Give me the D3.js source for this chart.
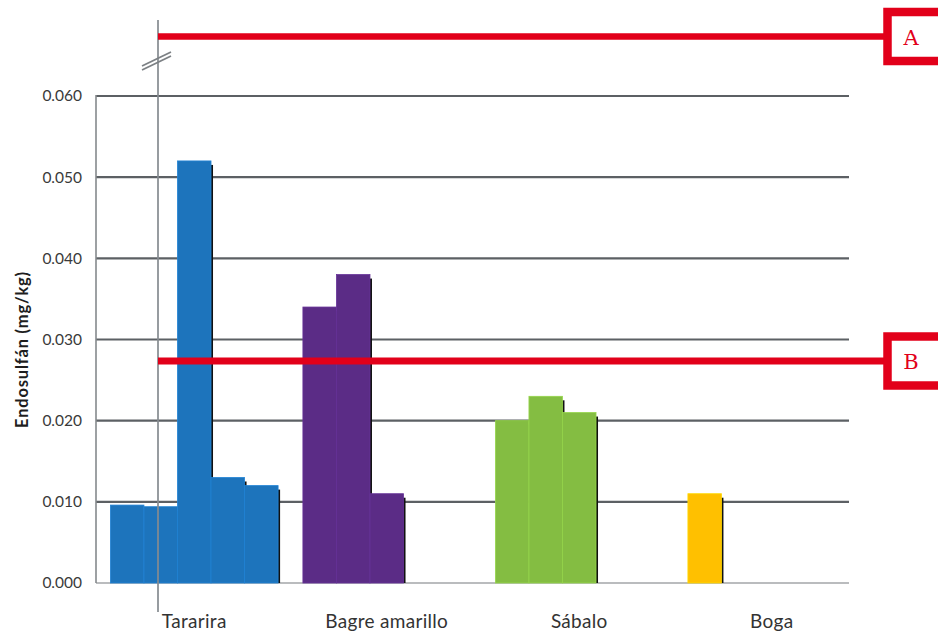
<!DOCTYPE html>
<html>
<head>
<meta charset="utf-8">
<script src="https://cdn.jsdelivr.net/npm/d3@7"></script>
<style>
  html, body { margin: 0; padding: 0; background: #fff; }
  svg { display: block; }
</style>
</head>
<body>
<svg id="chart" width="938" height="634"></svg>
<script>
// Fish species sampled
const categories = ["Tararira", "Bagre amarillo", "Sábalo", "Boga"];
// Endosulfán concentration per sample (mg/kg)
const tarariraValues = [0.0096, 0.0094, 0.052, 0.013, 0.012];
const bagreValues = [0.034, 0.038, 0.011];
const sabaloValues = [0.020, 0.023, 0.021];
const bogaValues = [0.011];
const seriesValues = [tarariraValues, bagreValues, sabaloValues, bogaValues];
const seriesColors = ["#1d74bc", "#5b2c86", "#84bd42", "#ffc000"];
// Y axis ticks
const yTicks = [0, 0.01, 0.02, 0.03, 0.04, 0.05, 0.06];
const yTickLabels = ["0.000", "0.010", "0.020", "0.030", "0.040", "0.050", "0.060"];
// Reference limits (labelled boxes on the right)
const limitLabels = ["A", "B"];
const yTitle = "Endosulfán (mg/kg)";

const svg = d3.select("#chart");
const plotLeft = 96, plotRight = 849, plotTop = 96, plotBottom = 583;
const maxSlots = 5;

const y = d3.scaleLinear().domain([0, 0.06]).range([plotBottom, plotTop]);
const x = d3.scaleBand().domain(categories).range([98, 868]).paddingInner(0).paddingOuter(0);
const slot = d3.scaleBand().domain(d3.range(maxSlots)).range([0, x.bandwidth()]).paddingOuter(0.37).paddingInner(0);

// Horizontal gridlines
const gridTicks = yTicks.filter(d => d > 0);
svg.append("g").selectAll("line").data(gridTicks).join("line")
  .attr("x1", plotLeft).attr("x2", plotRight)
  .attr("y1", d => y(d)).attr("y2", d => y(d))
  .attr("stroke", "#5c6064").attr("stroke-width", 2.2);

// Baseline and vertical axis line
svg.append("line").attr("x1", plotLeft).attr("x2", plotRight)
  .attr("y1", y(0)).attr("y2", y(0)).attr("stroke", "#a3a6a8").attr("stroke-width", 1.6);
svg.append("line").attr("x1", plotLeft).attr("x2", plotLeft)
  .attr("y1", y(0.06) - 1).attr("y2", y(0)).attr("stroke", "#85898c").attr("stroke-width", 1.6);

// Y tick labels via d3 axis
const yAxis = d3.axisLeft(y).tickValues(yTicks).tickFormat((d, i) => yTickLabels[i]).tickSize(0).tickPadding(14);
const yg = svg.append("g").attr("transform", `translate(${plotLeft},0)`).call(yAxis);
yg.select(".domain").remove();
yg.selectAll("text").attr("font-family", "Lato, 'Open Sans', sans-serif")
  .attr("font-size", 15.5).attr("fill", "#3a3a3a");

// Y axis title
svg.append("text")
  .attr("transform", `translate(28,${(plotTop + plotBottom) / 2 + 10}) rotate(-90)`)
  .attr("text-anchor", "middle")
  .attr("font-family", "Lato, 'Open Sans', sans-serif").attr("font-weight", "bold")
  .attr("font-size", 16.5).attr("letter-spacing", 0.8).attr("fill", "#1e1e1e")
  .text(yTitle);

// Bars with a dark shadow on their right side
categories.forEach((cat, ci) => {
  const vals = seriesValues[ci];
  const g = svg.append("g").attr("transform", `translate(${x(cat)},0)`);
  vals.forEach((v, i) => {
    const bx = slot(i), bw = slot.bandwidth();
    g.append("rect")
      .attr("x", bx + bw - 0.5).attr("y", y(v) + 4)
      .attr("width", 2.5).attr("height", y(0) - y(v) - 4)
      .attr("fill", "#111");
    g.append("rect")
      .attr("x", bx).attr("y", y(v))
      .attr("width", bw).attr("height", y(0) - y(v))
      .attr("fill", seriesColors[ci])
      .attr("stroke", d3.color(seriesColors[ci]).brighter(0.35))
      .attr("stroke-width", 0.8);
  });
});

// X category labels via d3 axis
const xAxis = d3.axisBottom(x).tickSize(0).tickPadding(32);
const xg = svg.append("g").attr("transform", `translate(0,${plotBottom})`).call(xAxis);
xg.select(".domain").remove();
xg.selectAll("text").attr("font-family", "Lato, 'Open Sans', sans-serif")
  .attr("font-size", 19).attr("letter-spacing", 0.3).attr("fill", "#333");

// Vertical marker line with axis-break symbol
const vx = 158;
svg.append("line").attr("x1", vx).attr("x2", vx).attr("y1", 20).attr("y2", 612)
  .attr("stroke", "#868b90").attr("stroke-width", 2).attr("opacity", 0.85);
[0, 4].forEach(off => {
  svg.append("line")
    .attr("x1", 142).attr("y1", 70 + off - 4).attr("x2", 171).attr("y2", 56 + off - 4)
    .attr("stroke", "#7c8084").attr("stroke-width", 1.8);
});

// Limit lines and their labelled boxes
const limitY = [36.5, 361];
const red = "#e2001a";
limitLabels.forEach((lab, i) => {
  const ly = limitY[i];
  svg.append("line").attr("x1", vx).attr("x2", 888).attr("y1", ly).attr("y2", ly)
    .attr("stroke", red).attr("stroke-width", i === 0 ? 6.5 : 7);
  svg.append("rect")
    .attr("x", 887.5).attr("y", ly - 24.5)
    .attr("width", 80).attr("height", 49)
    .attr("fill", "#fff").attr("stroke", red).attr("stroke-width", 8.5);
  svg.append("text")
    .attr("x", 911).attr("y", ly + 8)
    .attr("text-anchor", "middle")
    .attr("font-family", "'DejaVu Serif', 'Liberation Serif', serif")
    .attr("font-size", 21).attr("fill", red)
    .text(lab);
});
</script>
</body>
</html>
